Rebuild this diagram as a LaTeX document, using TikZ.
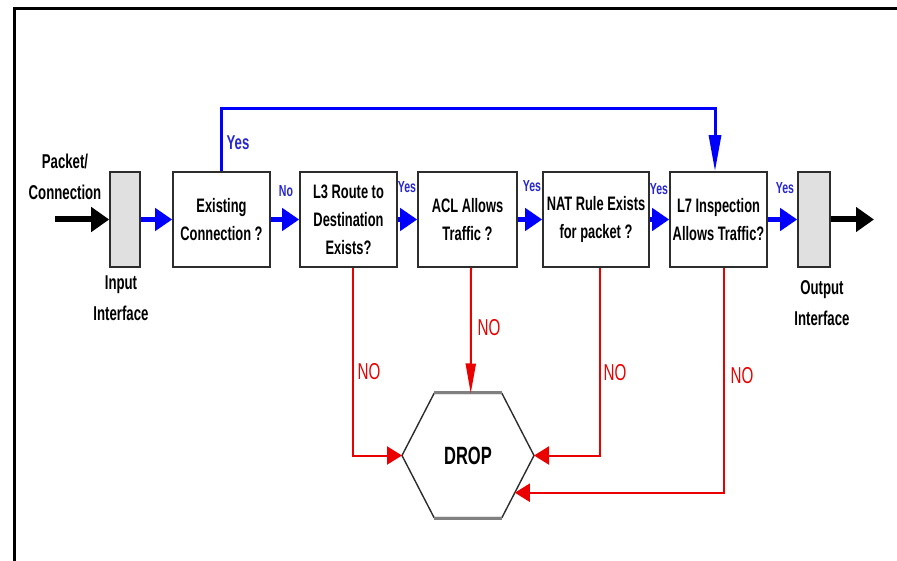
\documentclass[tikz,border=0pt]{standalone}
\usepackage{fontspec}
\setmainfont{Liberation Sans}[FakeStretch=0.66]
\usetikzlibrary{arrows.meta,calc}
\definecolor{flowblue}{RGB}{0,0,255}
\definecolor{lblblue}{RGB}{40,40,210}
\definecolor{dropred}{RGB}{235,0,0}
\definecolor{edgegray}{RGB}{45,45,45}
\definecolor{ifgray}{RGB}{224,224,224}
\begin{document}
\begin{tikzpicture}[x=1pt,y=-1pt,
  stepbox/.style={draw=edgegray,line width=1.6pt,fill=white,minimum height=95pt,
    inner sep=0pt,align=center,font=\fontsize{19.5}{28}\selectfont\bfseries},
  ifbox/.style={draw=edgegray,line width=1.6pt,fill=ifgray,minimum height=95pt,inner sep=0pt},
  caption/.style={align=center,inner sep=0pt,font=\fontsize{20}{31}\selectfont\bfseries},
  yesarrow/.style={draw=flowblue,line width=5.5pt,-{Triangle[length=17pt,width=22pt]}},
  looparrow/.style={draw=flowblue,line width=3pt,-{Triangle[length=36pt,width=12pt]}},
  blackarrow/.style={draw=black,line width=6pt,-{Triangle[length=18pt,width=24pt]}},
  noarrow/.style={draw=dropred,line width=2pt,-{Triangle[length=15pt,width=18pt]}},
  nodown/.style={draw=dropred,line width=2pt,-{Triangle[length=30pt,width=10pt]}},
  smalllbl/.style={text=lblblue,inner sep=0pt,font=\fontsize{16}{16}\selectfont\bfseries},
  biglbl/.style={text=lblblue,inner sep=0pt,font=\fontsize{20}{20}\selectfont\bfseries},
  nolbl/.style={text=dropred,inner sep=0pt,font=\fontsize{23}{23}\selectfont},
]
\useasboundingbox (0,0) rectangle (897,561);
\fill[white] (0,0) rectangle (897,561);

% outer frame
\draw[line width=3pt] (14,561) -- (14,9) -- (897,9);

% interfaces and decision steps
\node[ifbox,minimum width=30pt] (in) at (125,219.5) {};
\node[stepbox,minimum width=97pt] (ex) at (221.5,219.5) {Existing\\Connection ?};
\node[stepbox,minimum width=97pt] (l3) at (348.5,219.5) {L3 Route to\\Destination\\Exists?};
\node[stepbox,minimum width=99pt] (acl) at (467.5,219.5) {ACL Allows\\Traffic ?};
\node[stepbox,minimum width=106pt] (nat) at (596,219.5) {NAT Rule Exists\\for packet ?};
\node[stepbox,minimum width=97pt] (l7) at (718.5,219.5) {L7 Inspection\\Allows Traffic?};
\node[ifbox,minimum width=32pt] (out) at (814,219.5) {};

% captions
\node[caption] (pkt) at (65,177) {Packet/\\Connection};
\node[caption] (incap) at (121,298) {Input\\Interface};
\node[caption] (outcap) at (822,303) {Output\\Interface};

% free ends of the outer arrows
\coordinate (src) at (55,219.5);
\coordinate (dst) at (874,219.5);

% hexagon corners
\coordinate (dropc) at (468,455.5);
\coordinate (hl) at ($(dropc)+(-66,0)$);
\coordinate (htl) at ($(dropc)+(-34,-62)$);
\coordinate (htr) at ($(dropc)+(34,-62)$);
\coordinate (hr) at ($(dropc)+(66,0)$);
\coordinate (hbr) at ($(dropc)+(34,62)$);
\coordinate (hbl) at ($(dropc)+(-34,62)$);
\draw[edgegray,line width=1.4pt,fill=white,line join=miter]
  (hl) -- (htl) -- (htr) -- (hr) -- (hbr) -- (hbl) -- cycle;
\draw[gray,line width=3pt] ($(htl)+(0,-1)$) -- ($(htr)+(0,-1)$);
\draw[gray,line width=3pt] ($(hbl)+(0,1)$) -- ($(hbr)+(0,1)$);
\node[inner sep=0pt,font=\fontsize{25}{25}\selectfont\bfseries] (drop) at (dropc) {DROP};

% main flow
\draw[blackarrow] (src) -- (in.west);
\draw[yesarrow] (in.east) -- (ex.west);
\draw[yesarrow] (ex.east) -- (l3.west);
\draw[yesarrow] (l3.east) -- (acl.west);
\draw[yesarrow] (acl.east) -- (nat.west);
\draw[yesarrow] (nat.east) -- (l7.west);
\draw[yesarrow] (l7.east) -- (out.west);
\draw[blackarrow] (out.east) -- (dst);

% established connections skip ahead
\draw[looparrow] (ex.north) -- ++(0,-63) -| ($(l7.north)+(-3.5,0)$);

% rejected traffic
\draw[noarrow] ($(l3.south)+(4.5,0)$) |- (hl);
\draw[nodown] ($(acl.south)+(3.5,0)$) -- ($(htl)!0.54!(htr)$);
\draw[noarrow] ($(nat.south)+(4,0)$) |- (hr);
\draw[noarrow] ($(l7.south)+(5.5,0)$) |- ($(hr)!0.6!(hbr)$);

% labels
\node[biglbl] (yloop) at (238,143) {Yes};
\node[smalllbl] (lno) at (286,191) {No};
\node[smalllbl] (ly1) at (407,187) {Yes};
\node[smalllbl] (ly2) at (532,186) {Yes};
\node[smalllbl] (ly3) at (659,189) {Yes};
\node[smalllbl] (ly4) at (785,188) {Yes};
\node[nolbl] (n1) at (369,372) {NO};
\node[nolbl] (n2) at (489,328) {NO};
\node[nolbl] (n3) at (615,373) {NO};
\node[nolbl] (n4) at (742,376) {NO};
\end{tikzpicture}
\end{document}
